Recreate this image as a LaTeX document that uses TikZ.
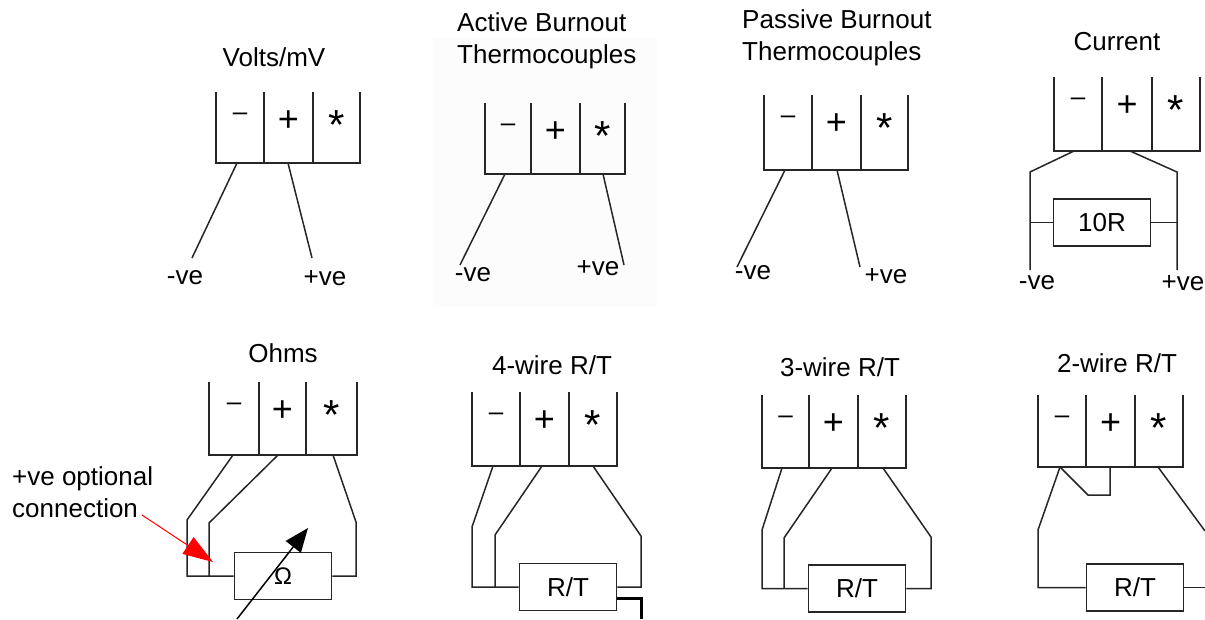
\documentclass[tikz,border=0pt]{standalone}
\usepackage{fontspec}
\setmainfont{Liberation Sans}
\usetikzlibrary{arrows.meta}
\definecolor{faintbg}{RGB}{252,252,252}
\newcommand\tblk[7]{%
  \draw[tblock] (#1,#5) -- (#1,#6) -- (#4,#6) -- (#4,#5);
  \draw[tblock] (#2,#5) -- (#2,#6);
  \draw[tblock] (#3,#5) -- (#3,#6);
  \node[symm] (#7m) at ({(#1+#2)/2},{#5+28}) {–};
  \node[symp] (#7p) at ({(#2+#3)/2},{#5+39}) {+};
  \node[syms] (#7s) at ({(#3+#4)/2},{#5+47}) {*};
}
\begin{document}
\begin{tikzpicture}[x=1pt,y=-1pt,
  lbl/.style={font=\fontsize{26}{32}\selectfont, inner sep=0pt, align=left},
  tblock/.style={line width=1.9pt, black!85},
  wire/.style={line width=1.5pt, black!85},
  res/.style={draw=black!85, line width=1.9pt, minimum width=97pt, minimum height=47pt, inner sep=0pt, font=\fontsize{26}{32}\selectfont},
  symm/.style={inner sep=0pt, anchor=base, font=\fontsize{26}{26}\selectfont},
  symp/.style={inner sep=0pt, anchor=base, font=\fontsize{36}{36}\selectfont},
  syms/.style={inner sep=0pt, anchor=base, font=\fontsize{42}{42}\selectfont},
]
\fill[white] (0,0) rectangle (1205,619);
\useasboundingbox (0,0) rectangle (1205,619);

% ---------- Volts/mV ----------
\node[lbl] (a-t) at (274,57) {Volts/mV};
\tblk{216}{264}{313}{360}{92}{163}{a}
\coordinate (a1) at (237,163); \coordinate (a1e) at (192,258);
\coordinate (a2) at (288,163); \coordinate (a2e) at (312,258);
\draw[wire] (a1) -- (a1e);
\draw[wire] (a2) -- (a2e);
\node[lbl] (a-n) at (185,278) {-ve};
\node[lbl] (a-p) at (325,278) {+ve};

% ---------- Active burnout ----------
\fill[faintbg] (433,38) rectangle (657,307);
\node[lbl, anchor=west] (b-t) at (457,41) {Active Burnout\\Thermocouples};
\tblk{485}{531}{580}{625}{103}{174}{b}
\coordinate (b1) at (505,174); \coordinate (b1e) at (460,265);
\coordinate (b2) at (603,174); \coordinate (b2e) at (624,265);
\draw[wire] (b1) -- (b1e);
\draw[wire] (b2) -- (b2e);
\node[lbl] (b-n) at (473,275) {-ve};
\node[lbl] (b-p) at (598,268) {+ve};

% ---------- Passive burnout ----------
\node[lbl, anchor=west] (c-t) at (742,38) {Passive Burnout\\Thermocouples};
\tblk{764}{812}{861}{908}{95}{170}{c}
\coordinate (c1) at (785,170); \coordinate (c1e) at (737,267);
\coordinate (c2) at (837,170); \coordinate (c2e) at (860,267);
\draw[wire] (c1) -- (c1e);
\draw[wire] (c2) -- (c2e);
\node[lbl] (c-n) at (753,273) {-ve};
\node[lbl] (c-p) at (886,276) {+ve};

% ---------- Current ----------
\node[lbl] (d-t) at (1117,42) {Current};
\tblk{1054}{1102}{1152}{1200}{77}{151}{d}
\node[res] (d-r) at (1102,222.5) {10R};
\coordinate (d1) at (1074,151); \coordinate (d1e) at (1030,270);
\coordinate (d2) at (1130,151); \coordinate (d2e) at (1177,270);
\draw[wire] (d1) -- (1030,172) -- (d1e);
\draw[wire] (d2) -- (1177,172) -- (d2e);
\draw[wire] (d-r.west) -- (d-r.west -| d1e);
\draw[wire] (d-r.east) -- (d-r.east -| d2e);
\node[lbl] (d-n) at (1037,283) {-ve};
\node[lbl] (d-p) at (1183,283) {+ve};

% ---------- Ohms ----------
\node[lbl] (e-t) at (283,353) {Ohms};
\tblk{209}{259}{306}{357}{382}{455}{e}
\node[res, font=\fontsize{24}{28}\selectfont] (e-r) at (283,576) {Ω};
\coordinate (e1) at (233,455);
\coordinate (e2) at (278,455);
\coordinate (e3) at (333,455);
\draw[wire] (e1) -- (187,520) |- (e-r.west);
\draw[wire] (e2) -- (209,523) -- (209,576);
\draw[wire] (e3) -- (356,522) |- (e-r.east);
\coordinate (e-a0) at (237,619); \coordinate (e-a1) at (308,528);
\draw[line width=1.5pt, -{Triangle[length=24pt,width=19pt]}] (e-a0) -- (e-a1);
\node[lbl, anchor=west] (e-note) at (12,492) {+ve optional\\connection};
\coordinate (e-rs) at (142,515); \coordinate (e-rt) at (213,562);
\draw[red, line width=1pt, -{Triangle[length=30pt,width=20pt]}] (e-rs) -- (e-rt);

% ---------- 4-wire ----------
\node[lbl] (f-t) at (552,365) {4-wire R/T};
\tblk{472}{520}{569}{617}{392}{466}{f}
\node[res] (f-r) at (568,587) {R/T};
\coordinate (f1) at (493,466);
\coordinate (f2) at (542,466);
\coordinate (f3) at (593,466);
\draw[wire] (f1) -- (472,527) |- (f-r.west);
\draw[wire] (f2) -- (495,535) -- (495,587);
\draw[wire] (f3) -- (641,536) |- (f-r.east);
\coordinate (f-x0) at (617,598); \coordinate (f-x1) at (641,619);
\draw[line width=3pt] (f-x0) -| (f-x1);

% ---------- 3-wire ----------
\node[lbl] (g-t) at (840,367) {3-wire R/T};
\tblk{762}{809}{858}{906}{395}{468}{g}
\node[res] (g-r) at (857,588.5) {R/T};
\coordinate (g1) at (782,468);
\coordinate (g2) at (832,468);
\coordinate (g3) at (883,468);
\draw[wire] (g1) -- (762,530) |- (g-r.west);
\draw[wire] (g2) -- (784,538) -- (784,588.5);
\draw[wire] (g3) -- (931,537) |- (g-r.east);

% ---------- 2-wire ----------
\node[lbl] (h-t) at (1117,363) {2-wire R/T};
\tblk{1038}{1086}{1135}{1183}{395}{467}{h}
\node[res] (h-r) at (1135,587.5) {R/T};
\coordinate (h1) at (1060,467);
\coordinate (h2) at (1110,467);
\coordinate (h3) at (1158,467); \coordinate (h3e) at (1205,531);
\coordinate (h4e) at (1205,587.5);
\draw[wire] (h1) -- (1038,530) |- (h-r.west);
\draw[wire] (h1) -- (1088,495) -- (1110,495) -- (h2);
\draw[wire] (h3) -- (h3e);
\draw[wire] (h-r.east) -- (h4e);
\end{tikzpicture}
\end{document}
